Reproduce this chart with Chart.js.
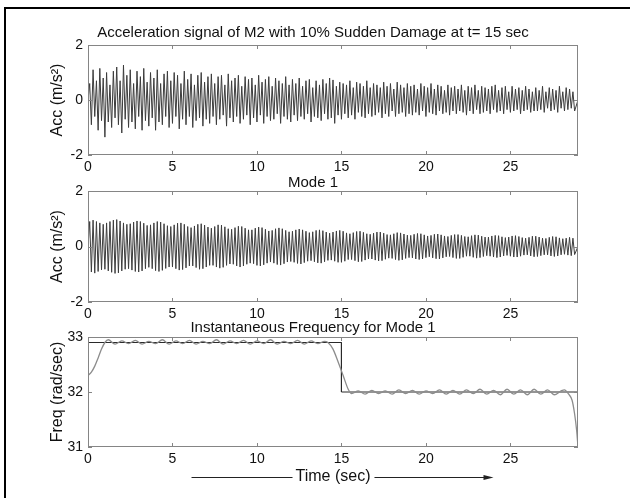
<!DOCTYPE html>
<html>
<head>
<meta charset="utf-8">
<script src="https://cdn.jsdelivr.net/npm/chart.js@4.4.0/dist/chart.umd.min.js"></script>
<style>
  html, body { margin: 0; padding: 0; background: #fff; }
  #page { position: relative; width: 630px; height: 498px; overflow: hidden; }
  #frame { position: absolute; left: 4px; top: 7px; right: -10px; bottom: -10px;
           border-top: 2px solid #000; border-left: 2px solid #000; }
  canvas { position: absolute; left: 0; top: 0; }
</style>
</head>
<body>
<div id="page">
  <div id="frame"></div>
  <canvas id="accChart" width="630" height="498"></canvas>
  <canvas id="modeChart" width="630" height="498"></canvas>
  <canvas id="freqChart" width="630" height="498"></canvas>
</div>
<script>
// ---------- DATA ----------
const tMax = 29;          // seconds shown on every panel
const halfStep = 0.1;     // time between a peak and the next trough (s)

// measured acceleration of M2: peak / trough of each cycle
const accPeaks = [
  0.6, 1.1, 0.7, 1.15, 0.8, 1.0, 0.55, 1.05, 1.2, 0.7, 1.27, 0.9,
  1.1, 0.6, 1.05, 0.85, 1.15, 0.65, 1.0, 0.8, 1.1, 0.6, 0.95, 1.05,
  0.7, 1.0, 0.9, 0.6, 1.05, 0.75, 0.95, 0.55, 0.9, 1.0, 0.65, 0.85,
  0.95, 0.6, 0.85, 0.9, 0.55, 0.95, 0.7, 0.8, 0.9, 0.5, 0.85, 0.75,
  0.8, 0.55, 0.9, 0.65, 0.75, 0.85, 0.5, 0.8, 0.7, 0.6, 0.85, 0.55,
  0.75, 0.6, 0.8, 0.5, 0.7, 0.75, 0.45, 0.7, 0.55, 0.75, 0.6, 0.8,
  0.73, 0.5, 0.65, 0.6, 0.55, 0.7, 0.45, 0.65, 0.6, 0.5, 0.7, 0.45,
  0.6, 0.55, 0.45, 0.65, 0.5, 0.6, 0.4, 0.65, 0.55, 0.45, 0.6, 0.5,
  0.55, 0.4, 0.6, 0.5, 0.45, 0.6, 0.4, 0.55, 0.5, 0.35, 0.55, 0.45,
  0.5, 0.4, 0.55, 0.35, 0.5, 0.45, 0.55, 0.35, 0.5, 0.45, 0.4, 0.5,
  0.55, 0.35, 0.45, 0.5, 0.3, 0.5, 0.4, 0.45, 0.35, 0.5, 0.4, 0.3,
  0.45, 0.35, 0.5, 0.3, 0.45, 0.4, 0.35, 0.5, 0.3, 0.45, 0.4, 0.3
];
const accTroughs = [
  -0.9, -0.6, -1.1, -0.75, -1.35, -0.8, -1.0, -0.65, -0.9, -1.2, -0.7, -1.0,
  -0.8, -1.05, -0.6, -1.1, -0.75, -0.95, -0.65, -1.1, -0.8, -0.9, -0.6, -1.0,
  -0.85, -0.6, -1.05, -0.7, -0.9, -0.6, -1.0, -0.75, -0.65, -0.95, -0.7, -0.85,
  -0.6, -0.9, -0.7, -0.55, -0.95, -0.65, -0.8, -0.6, -0.85, -0.7, -0.55, -0.9,
  -0.65, -0.8, -0.55, -0.85, -0.6, -0.75, -0.7, -0.5, -0.85, -0.6, -0.7, -0.8,
  -0.55, -0.75, -0.6, -0.7, -0.5, -0.8, -0.6, -0.65, -0.75, -0.5, -0.7, -0.65,
  -0.85, -0.55, -0.7, -0.5, -0.65, -0.55, -0.7, -0.45, -0.6, -0.65, -0.5, -0.6,
  -0.55, -0.45, -0.65, -0.5, -0.6, -0.4, -0.6, -0.5, -0.45, -0.6, -0.5, -0.55,
  -0.45, -0.55, -0.4, -0.6, -0.45, -0.5, -0.55, -0.4, -0.5, -0.45, -0.55, -0.4,
  -0.5, -0.4, -0.45, -0.55, -0.4, -0.5, -0.35, -0.5, -0.45, -0.4, -0.5, -0.35,
  -0.45, -0.4, -0.5, -0.35, -0.45, -0.4, -0.35, -0.5, -0.4, -0.35, -0.45, -0.4,
  -0.4, -0.35, -0.45, -0.3, -0.4, -0.35, -0.45, -0.3, -0.4, -0.35, -0.3, -0.4
];

// mode 1 component: peak / trough of each cycle
const modePeaks = [
  0.9, 0.95, 0.9, 0.85, 0.8, 0.85, 0.9, 0.95, 0.97, 0.92, 0.85, 0.8,
  0.82, 0.88, 0.92, 0.9, 0.84, 0.76, 0.78, 0.85, 0.9, 0.88, 0.82, 0.75,
  0.72, 0.78, 0.84, 0.85, 0.8, 0.72, 0.68, 0.74, 0.8, 0.82, 0.77, 0.7,
  0.66, 0.72, 0.78, 0.77, 0.71, 0.64, 0.62, 0.68, 0.73, 0.72, 0.66, 0.6,
  0.6, 0.66, 0.7, 0.68, 0.62, 0.56, 0.58, 0.64, 0.67, 0.64, 0.58, 0.53,
  0.55, 0.6, 0.63, 0.6, 0.55, 0.5, 0.53, 0.58, 0.6, 0.57, 0.52, 0.48,
  0.52, 0.56, 0.58, 0.55, 0.49, 0.46, 0.5, 0.54, 0.55, 0.51, 0.46, 0.44,
  0.48, 0.52, 0.52, 0.48, 0.43, 0.42, 0.46, 0.5, 0.49, 0.45, 0.41, 0.4,
  0.44, 0.47, 0.46, 0.42, 0.38, 0.4, 0.44, 0.45, 0.42, 0.38, 0.36, 0.4,
  0.43, 0.43, 0.4, 0.36, 0.35, 0.39, 0.42, 0.41, 0.37, 0.34, 0.34, 0.38,
  0.4, 0.39, 0.35, 0.32, 0.34, 0.38, 0.39, 0.36, 0.32, 0.3, 0.33, 0.37,
  0.37, 0.34, 0.3, 0.29, 0.33, 0.36, 0.35, 0.31, 0.28, 0.3, 0.33, 0.3
];
const modeTroughs = [
  -0.92, -0.96, -0.9, -0.84, -0.82, -0.88, -0.93, -0.97, -0.95, -0.88, -0.82, -0.8,
  -0.85, -0.9, -0.92, -0.88, -0.8, -0.75, -0.8, -0.87, -0.9, -0.86, -0.79, -0.74,
  -0.74, -0.8, -0.85, -0.83, -0.77, -0.7, -0.7, -0.76, -0.82, -0.8, -0.74, -0.68,
  -0.68, -0.74, -0.78, -0.75, -0.68, -0.63, -0.64, -0.7, -0.74, -0.7, -0.64, -0.6,
  -0.62, -0.68, -0.7, -0.66, -0.6, -0.56, -0.6, -0.65, -0.67, -0.62, -0.56, -0.54,
  -0.57, -0.61, -0.63, -0.58, -0.53, -0.51, -0.55, -0.59, -0.6, -0.55, -0.5, -0.49,
  -0.53, -0.57, -0.57, -0.53, -0.47, -0.47, -0.51, -0.55, -0.54, -0.49, -0.45, -0.45,
  -0.49, -0.52, -0.51, -0.46, -0.42, -0.43, -0.47, -0.5, -0.48, -0.43, -0.4, -0.41,
  -0.45, -0.47, -0.45, -0.4, -0.37, -0.41, -0.44, -0.45, -0.41, -0.37, -0.36, -0.4,
  -0.43, -0.43, -0.39, -0.35, -0.35, -0.39, -0.42, -0.4, -0.36, -0.33, -0.35, -0.38,
  -0.4, -0.38, -0.34, -0.32, -0.35, -0.38, -0.38, -0.35, -0.31, -0.3, -0.34, -0.37,
  -0.36, -0.33, -0.3, -0.3, -0.34, -0.36, -0.34, -0.3, -0.28, -0.31, -0.33, -0.29
];

// instantaneous frequency of mode 1 (rad/sec)
const freqTimes = [
  0, 0.2, 0.4, 0.6, 0.8, 1.0, 1.2,
  1.6, 2.0, 2.4, 2.8, 3.2, 3.6, 4.0, 4.4, 4.8, 5.2, 5.6, 6.0, 6.4, 6.8, 7.2, 7.6,
  8.0, 8.4, 8.8, 9.2, 9.6, 10.0, 10.4, 10.8, 11.2, 11.6, 12.0, 12.4, 12.8, 13.2, 13.6, 14.0,
  14.2, 14.5, 14.8, 15.1, 15.4, 15.6,
  16.0, 16.4, 16.8, 17.2, 17.6, 18.0, 18.4, 18.8, 19.2, 19.6, 20.0, 20.4, 20.8, 21.2, 21.6,
  22.0, 22.4, 22.8, 23.2, 23.6, 24.0, 24.4, 24.8, 25.2, 25.6, 26.0, 26.4, 26.8, 27.2, 27.6, 28.0,
  28.2, 28.45, 28.65, 28.8, 28.92, 29.0
];
const freqEstimate = [
  32.30, 32.36, 32.47, 32.62, 32.78, 32.90, 32.95,
  32.87, 32.93, 32.88, 32.94, 32.87, 32.92, 32.88, 32.95, 32.87, 32.93, 32.88, 32.94, 32.87, 32.92, 32.88, 32.95,
  32.87, 32.93, 32.88, 32.94, 32.87, 32.93, 32.88, 32.95, 32.87, 32.92, 32.88, 32.94, 32.87, 32.93, 32.88, 32.92,
  32.90, 32.78, 32.55, 32.30, 32.05, 31.97,
  32.02, 31.96, 32.03, 31.97, 32.02, 31.96, 32.04, 31.97, 32.03, 31.96, 32.02, 31.97, 32.04, 31.96, 32.03,
  31.96, 32.04, 31.97, 32.05, 31.96, 32.03, 31.95, 32.05, 31.96, 32.04, 31.95, 32.05, 31.96, 32.04, 31.95, 32.02,
  32.04, 31.96, 31.85, 31.60, 31.30, 31.00
];
const trueTimes = [0, 15, 15, 29];
const trueFreq = [32.9, 32.9, 32.0, 32.0];

// ---------- HELPERS ----------
const fontFamily = "'Liberation Sans', Arial, sans-serif";
Chart.defaults.font.family = fontFamily;
Chart.defaults.color = '#111';

function zigzag(peaks, troughs) {
  const pts = [{ x: 0, y: 0 }];
  peaks.forEach((p, i) => {
    pts.push({ x: (2 * i + 1) * halfStep, y: p });
    pts.push({ x: (2 * i + 2) * halfStep, y: troughs[i] });
  });
  pts.push({ x: tMax, y: 0 });
  return pts;
}

function pairUp(xs, ys) {
  return xs.map((x, i) => ({ x, y: ys[i] }));
}

// matlab-like box with ticks pointing inward
const boxTicks = {
  id: 'boxTicks',
  afterDatasetsDraw(chart) {
    const { ctx, chartArea: a, scales: { x, y } } = chart;
    ctx.save();
    ctx.strokeStyle = '#858585';
    ctx.lineWidth = 1;
    ctx.strokeRect(a.left + 0.5, a.top + 0.5, a.width - 1, a.height - 1);
    ctx.beginPath();
    x.ticks.forEach(t => {
      const px = Math.round(x.getPixelForValue(t.value)) + 0.5;
      ctx.moveTo(px, a.top); ctx.lineTo(px, a.top + 4);
      ctx.moveTo(px, a.bottom); ctx.lineTo(px, a.bottom - 4);
    });
    y.ticks.forEach(t => {
      const py = Math.round(y.getPixelForValue(t.value)) + 0.5;
      ctx.moveTo(a.left, py); ctx.lineTo(a.left + 4, py);
      ctx.moveTo(a.right, py); ctx.lineTo(a.right - 4, py);
    });
    ctx.stroke();
    ctx.restore();
  }
};

// arrows on both sides of the time axis title
const timeArrows = {
  id: 'timeArrows',
  afterDraw(chart) {
    const x = chart.scales.x;
    const t = x.options.title;
    if (!t.display) return;
    const { ctx } = chart;
    const font = Chart.helpers.toFont(t.font);
    const cy = Math.round(x.bottom - font.lineHeight / 2 - t.padding.bottom) + 0.5;
    const cx = (x.left + x.right) / 2;
    ctx.save();
    ctx.font = font.string;
    const half = ctx.measureText(t.text).width / 2;
    ctx.strokeStyle = '#222';
    ctx.fillStyle = '#222';
    ctx.lineWidth = 1;
    ctx.beginPath();
    ctx.moveTo(cx - half - 104, cy); ctx.lineTo(cx - half - 3, cy);
    ctx.moveTo(cx + half + 4, cy); ctx.lineTo(cx + half + 116, cy);
    ctx.stroke();
    ctx.beginPath();
    ctx.moveTo(cx + half + 123, cy);
    ctx.lineTo(cx + half + 113, cy - 2.5);
    ctx.lineTo(cx + half + 113, cy + 2.5);
    ctx.closePath();
    ctx.fill();
    ctx.restore();
  }
};

function panelOptions(cfg) {
  return {
    responsive: false,
    animation: false,
    events: [],
    layout: { padding: { top: cfg.top, left: 48, right: 52, bottom: 0 } },
    plugins: {
      legend: { display: false },
      tooltip: { enabled: false },
      title: {
        display: true,
        text: cfg.title,
        color: '#111',
        font: { size: 15, weight: 'normal', lineHeight: cfg.titleLine },
        padding: cfg.titlePad
      }
    },
    scales: {
      x: {
        type: 'linear',
        min: 0,
        max: tMax,
        grid: { display: false, drawTicks: false },
        border: { display: false },
        ticks: { stepSize: 5, includeBounds: false, padding: 4, maxRotation: 0,
                 font: { size: 14 }, color: '#111' },
        title: cfg.xTitle
          ? { display: true, text: cfg.xTitle, color: '#111', font: { size: 16 },
              padding: { top: 0, bottom: 11.4 } }
          : { display: false },
        afterFit: s => { s.height = cfg.xHeight; }
      },
      y: {
        min: cfg.yMin,
        max: cfg.yMax,
        grid: { display: false, drawTicks: false },
        border: { display: false },
        ticks: { stepSize: cfg.yStep, padding: 5, font: { size: 14 }, color: '#111' },
        title: { display: true, text: cfg.yTitle, color: '#111', font: { size: 16 },
                 padding: { top: 0, bottom: 0 } },
        afterFit: s => { s.width = 40; }
      }
    }
  };
}

const signalStyle = { borderColor: '#3c3c3c', borderWidth: 1, pointRadius: 0, tension: 0 };

// ---------- CHARTS ----------
new Chart(document.getElementById('accChart'), {
  type: 'line',
  data: { datasets: [{ ...signalStyle, data: zigzag(accPeaks, accTroughs) }] },
  options: panelOptions({
    top: 0, title: 'Acceleration signal of M2 with 10% Sudden Damage at t= 15 sec',
    titleLine: 1.2, titlePad: { top: 24, bottom: 3 },
    yMin: -2, yMax: 2, yStep: 2, yTitle: 'Acc (m/s²)', xHeight: 343
  }),
  plugins: [boxTicks]
});

new Chart(document.getElementById('modeChart'), {
  type: 'line',
  data: { datasets: [{ ...signalStyle, data: zigzag(modePeaks, modeTroughs) }] },
  options: panelOptions({
    top: 170, title: 'Mode 1',
    titleLine: 1, titlePad: { top: 5.5, bottom: 0.5 },
    yMin: -2, yMax: 2, yStep: 2, yTitle: 'Acc (m/s²)', xHeight: 196
  }),
  plugins: [boxTicks]
});

new Chart(document.getElementById('freqChart'), {
  type: 'line',
  data: {
    datasets: [
      { data: pairUp(freqTimes, freqEstimate), borderColor: '#8c8c8c', borderWidth: 1.3,
        pointRadius: 0, cubicInterpolationMode: 'monotone' },
      { data: pairUp(trueTimes, trueFreq), borderColor: '#2a2a2a', borderWidth: 1,
        pointRadius: 0, tension: 0 }
    ]
  },
  options: panelOptions({
    top: 310, title: 'Instantaneous Frequency for Mode 1',
    titleLine: 1, titlePad: { top: 10.5, bottom: 1.5 },
    yMin: 31, yMax: 33, yStep: 1, yTitle: 'Freq (rad/sec)', xHeight: 51,
    xTitle: 'Time (sec)'
  }),
  plugins: [boxTicks, timeArrows]
});
</script>
</body>
</html>
